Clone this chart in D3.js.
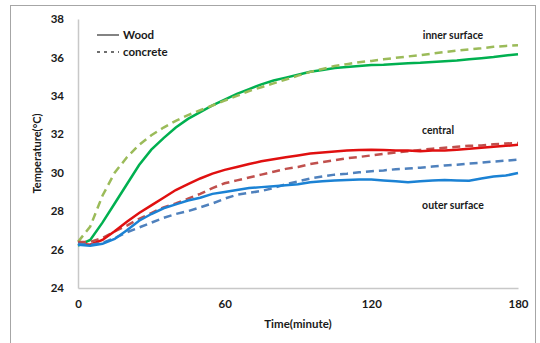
<!DOCTYPE html>
<html>
<head>
<meta charset="utf-8">
<script src="https://cdn.jsdelivr.net/npm/d3@7"></script>
<style>
  body { margin: 0; background: #fff; }
  text { font-family: Lato, "Liberation Sans", sans-serif; font-weight: bold; fill: #1a1a1a; }
</style>
</head>
<body>
<div id="chart"></div>
<script>
// time axis (minutes), one reading every 5 minutes
var times = d3.range(0, 181, 5);

var innerWood = [26.2, 26.5, 27.4, 28.4, 29.4, 30.4, 31.2, 31.8, 32.35, 32.8, 33.15, 33.5, 33.8,
  34.1, 34.35, 34.6, 34.8, 34.95, 35.1, 35.25, 35.35, 35.45, 35.5, 35.55, 35.6, 35.62, 35.66,
  35.7, 35.72, 35.76, 35.8, 35.84, 35.9, 35.96, 36.02, 36.1, 36.17];
var innerConcrete = [26.4, 27.2, 28.8, 30.0, 30.8, 31.45, 31.95, 32.35, 32.7, 33.0, 33.25, 33.5, 33.75,
  34.0, 34.25, 34.45, 34.65, 34.85, 35.05, 35.25, 35.4, 35.55, 35.65, 35.75, 35.82, 35.9, 35.98,
  36.05, 36.12, 36.2, 36.28, 36.35, 36.42, 36.48, 36.55, 36.6, 36.63];
var centralWood = [26.3, 26.25, 26.5, 26.95, 27.45, 27.9, 28.3, 28.7, 29.1, 29.4, 29.7, 29.95, 30.15,
  30.3, 30.45, 30.6, 30.7, 30.8, 30.9, 31.0, 31.05, 31.1, 31.15, 31.18, 31.2, 31.18, 31.15,
  31.15, 31.12, 31.15, 31.15, 31.2, 31.25, 31.3, 31.35, 31.4, 31.45];
var centralConcrete = [26.4, 26.4, 26.6, 26.95, 27.25, 27.6, 27.9, 28.2, 28.4, 28.65, 28.9, 29.2, 29.45,
  29.6, 29.75, 29.9, 30.05, 30.2, 30.3, 30.45, 30.55, 30.65, 30.75, 30.82, 30.9, 30.98, 31.05,
  31.12, 31.18, 31.25, 31.3, 31.35, 31.4, 31.42, 31.48, 31.52, 31.55];
var outerWood = [26.25, 26.2, 26.3, 26.55, 27.0, 27.5, 27.85, 28.15, 28.35, 28.55, 28.7, 28.9, 29.0,
  29.1, 29.2, 29.25, 29.3, 29.35, 29.4, 29.5, 29.55, 29.6, 29.62, 29.65, 29.65, 29.6, 29.55,
  29.5, 29.55, 29.6, 29.62, 29.6, 29.58, 29.7, 29.8, 29.85, 29.98];
var outerConcrete = [26.3, 26.25, 26.35, 26.6, 26.9, 27.15, 27.4, 27.65, 27.85, 28.0, 28.2, 28.4, 28.65,
  28.85, 28.95, 29.05, 29.2, 29.4, 29.55, 29.7, 29.8, 29.9, 29.95, 30.02, 30.08, 30.12, 30.18,
  30.22, 30.26, 30.32, 30.38, 30.42, 30.48, 30.52, 30.58, 30.63, 30.68];

var xTicks = [0, 60, 120, 180];
var yTicks = [24, 26, 28, 30, 32, 34, 36, 38];

var series = [
  {values: innerWood, color: "#00b050", dashed: false},
  {values: innerConcrete, color: "#9bbb59", dashed: true},
  {values: centralConcrete, color: "#c0504d", dashed: true},
  {values: centralWood, color: "#e01010", dashed: false},
  {values: outerConcrete, color: "#4f81bd", dashed: true},
  {values: outerWood, color: "#1b82d4", dashed: false}
];

var labels = [
  {text: "inner surface", x: 453, y: 39},
  {text: "central", x: 438, y: 134},
  {text: "outer surface", x: 453, y: 209}
];

// set the dimensions and margins of the graph
var margin = {top: 19, right: 22, bottom: 55, left: 78},
    width = 540 - margin.left - margin.right,
    height = 343 - margin.top - margin.bottom;

var root = d3.select("#chart")
  .append("svg")
    .attr("width", 540)
    .attr("height", 343);

// outer frame
root.append("rect")
  .attr("x", 10.5).attr("y", 5.5)
  .attr("width", 525).attr("height", 360)
  .attr("fill", "none")
  .attr("stroke", "#a6a6a6")
  .attr("stroke-width", 1);

var svg = root.append("g")
  .attr("transform", "translate(" + margin.left + "," + margin.top + ")");

var x = d3.scaleLinear().domain([0, 180]).range([0, width]);
var y = d3.scaleLinear().domain([24, 38]).range([height, 0]);

// axes without tick marks
var xAxis = svg.append("g")
  .attr("transform", "translate(0," + height + ")")
  .call(d3.axisBottom(x).tickValues(xTicks).tickSize(0).tickPadding(12));
var yAxis = svg.append("g")
  .call(d3.axisLeft(y).tickValues(yTicks).tickSize(0).tickPadding(14));

[xAxis, yAxis].forEach(function(a) {
  a.select(".domain").attr("stroke", "#c8c8c8").attr("stroke-width", 1.5);
  a.selectAll("text")
    .style("font-family", "Lato, 'Liberation Sans', sans-serif")
    .style("font-weight", "bold")
    .style("font-size", "11.5px")
    .attr("fill", "#1a1a1a");
});

// lines
var line = d3.line()
  .x(function(d, i) { return x(times[i]); })
  .y(function(d) { return y(d); });

svg.selectAll("path.series")
  .data(series)
  .enter()
  .append("path")
    .attr("class", "series")
    .attr("d", function(d) { return line(d.values); })
    .attr("fill", "none")
    .attr("stroke", function(d) { return d.color; })
    .attr("stroke-width", 2.5)
    .attr("stroke-dasharray", function(d) { return d.dashed ? "8,5" : null; });

// axis titles
svg.append("text")
  .attr("x", width / 2)
  .attr("y", height + 40)
  .attr("text-anchor", "middle")
  .style("font-size", "11.5px")
  .text("Time(minute)");

svg.append("text")
  .attr("transform", "translate(" + (-37) + "," + (height / 2) + ") rotate(-90)")
  .attr("text-anchor", "middle")
  .style("font-size", "11px")
  .text("Temperature(\u00b0C)");

// legend
var legend = [
  {name: "Wood", dash: null},
  {name: "concrete", dash: "3,4"}
];
var lg = root.selectAll("g.legend")
  .data(legend)
  .enter()
  .append("g")
    .attr("class", "legend")
    .attr("transform", function(d, i) { return "translate(97," + (35 + i * 17) + ")"; });
lg.append("line")
  .attr("x1", 0).attr("x2", 22)
  .attr("stroke", "#404040")
  .attr("stroke-width", 1.3)
  .attr("stroke-dasharray", function(d) { return d.dash; });
lg.append("text")
  .attr("x", 26)
  .attr("dy", "0.35em")
  .style("font-size", "11.5px")
  .text(function(d) { return d.name; });

// curve annotations
root.selectAll("text.note")
  .data(labels)
  .enter()
  .append("text")
    .attr("class", "note")
    .attr("x", function(d) { return d.x; })
    .attr("y", function(d) { return d.y; })
    .attr("text-anchor", "middle")
    .style("font-size", "10.5px")
    .text(function(d) { return d.text; });
</script>
</body>
</html>
